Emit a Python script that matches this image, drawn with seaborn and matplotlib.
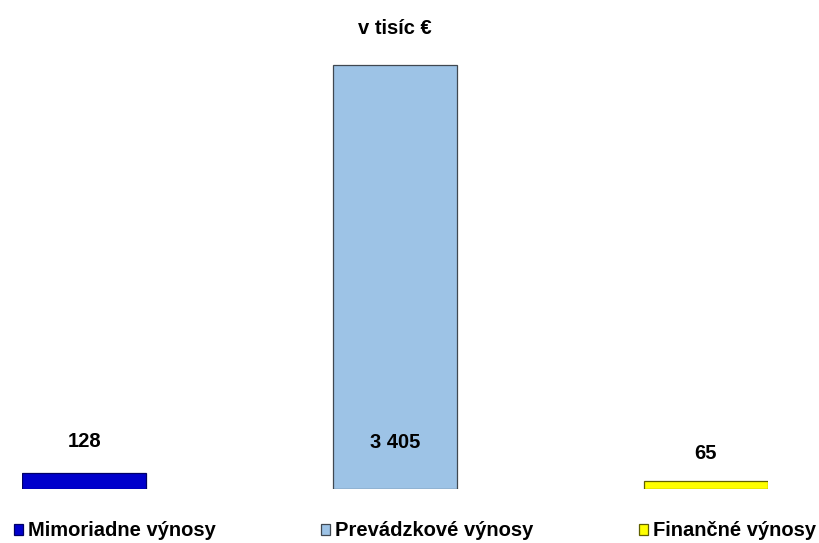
import matplotlib
matplotlib.use("Agg")
import matplotlib.pyplot as plt
import seaborn as sns
import pandas as pd
from matplotlib.patches import Patch

categories = ["Mimoriadne výnosy", "Prevádzkové výnosy", "Finančné výnosy"]
values = [128, 3405, 65]
labels = ["128", "3 405", "65"]
colors = ["#0000CC", "#9DC3E6", "#FFFF00"]
edges = ["#000066", "#404850", "#606000"]
title = "v tisíc €"

sns.set_theme(style="white")
plt.rcParams["font.family"] = ["Liberation Sans", "DejaVu Sans"]
plt.rcParams["text.color"] = "black"

df = pd.DataFrame({"cat": categories, "val": values})

W, H = 819, 543
fig = plt.figure(figsize=(W / 100, H / 100), dpi=100)
left, right = 22 / W, 768 / W
bottom, top = 1 - 489 / H, 1 - 40 / H
ax = fig.add_axes([left, bottom, right - left, top - bottom])

sns.barplot(data=df, x="cat", y="val", hue="cat", palette=colors, saturation=1,
            dodge=False, width=0.4, legend=False, ax=ax)
for p, ec in zip(ax.patches, edges):
    p.set_edgecolor(ec)
    p.set_linewidth(0.9)

ax.set_xlim(-0.2, 2.2)
ax.set_ylim(0, 3405 * 449 / 424)
ax.set_axis_off()

fs = 14.5
offsets = [32, -377, 27]
for i, (lab, v, off) in enumerate(zip(labels, values, offsets)):
    ax.annotate(lab, (i, v), xytext=(0, off), textcoords="offset pixels",
                ha="center", va="center", fontsize=fs, fontweight="bold", color="black")

fig.text(395 / W, 1 - 28 / H, title, ha="center", va="center",
         fontsize=fs, fontweight="bold", color="black")

handles = [Patch(facecolor=c, edgecolor=e, linewidth=0.9) for c, e in zip(colors, edges)]
leg = fig.legend(handles, categories, ncol=3, loc="center",
                 bbox_to_anchor=(415 / W, 1 - 531 / H), frameon=False,
                 prop={"weight": "bold", "size": fs},
                 handlelength=0.47, handleheight=0.47, handletextpad=0.25,
                 columnspacing=5.2, borderaxespad=0, borderpad=0)
for t in leg.get_texts():
    t.set_color("black")

fig.savefig("out.png", dpi=100)
